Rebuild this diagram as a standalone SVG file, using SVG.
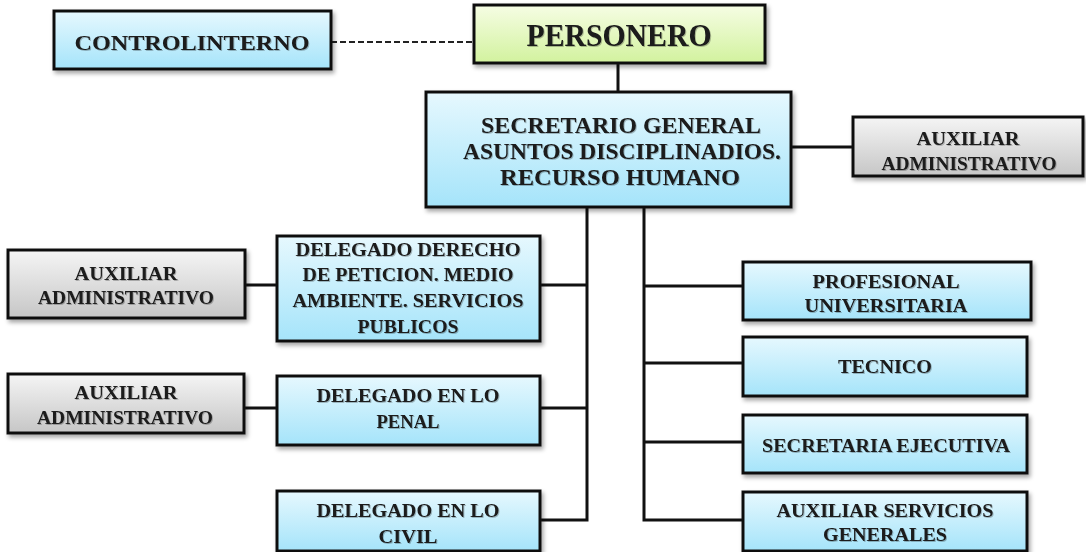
<svg xmlns="http://www.w3.org/2000/svg" width="1086" height="552" viewBox="0 0 1086 552">
<defs>
<linearGradient id="gBlue" x1="0" y1="0" x2="0" y2="1"><stop offset="0" stop-color="#e6f8fe"/><stop offset="1" stop-color="#a5e4fa"/></linearGradient>
<linearGradient id="gGray" x1="0" y1="0" x2="0" y2="1"><stop offset="0" stop-color="#f5f5f5"/><stop offset="1" stop-color="#c6c6c6"/></linearGradient>
<linearGradient id="gGreen" x1="0" y1="0" x2="0" y2="1"><stop offset="0" stop-color="#f6fde4"/><stop offset="1" stop-color="#d2f29e"/></linearGradient>
<filter id="sh" x="-10%" y="-10%" width="130%" height="140%"><feDropShadow dx="2" dy="3" stdDeviation="2" flood-color="#000" flood-opacity="0.35"/></filter>
<filter id="tsh" x="-5%" y="-20%" width="110%" height="150%"><feDropShadow dx="1" dy="1" stdDeviation="0.6" flood-color="#000" flood-opacity="0.25"/></filter>
</defs>
<style>
.box{stroke:#111;stroke-width:3;filter:url(#sh)}
.blue{fill:url(#gBlue)}
.gray{fill:url(#gGray)}
.green{fill:url(#gGreen)}
text{font-family:"Liberation Serif","Times New Roman",serif;font-weight:bold;fill:#1a1a1a;text-anchor:middle;filter:url(#tsh)}
.s{font-size:19.5px}
.m{font-size:22px}
.l{font-size:23px}
.xl{font-size:32px}
.c{fill:none;stroke:#111;stroke-width:3}
.d{fill:none;stroke:#222;stroke-width:2;stroke-dasharray:6 3}
</style>
<g id="connectors">
<path class="d" d="M331 42 H474"/>
<path class="c" d="M618 63 V92"/>
<path class="c" d="M791 147 H853"/>
<path class="c" d="M587 207 V520 H540 M540 285 H587 M540 408 H587"/>
<path class="c" d="M245 285 H277 M244 408 H277"/>
<path class="c" d="M644 207 V520 H743 M644 286 H743 M644 363 H743 M644 442 H743"/>
</g>
<g id="control-interno"><rect class="box blue" x="54" y="11" width="277" height="58"/><text class="m" x="192" y="50" textLength="235" lengthAdjust="spacingAndGlyphs">CONTROLINTERNO</text></g>
<g id="personero"><rect class="box green" x="474" y="5" width="291" height="58"/><text class="xl" x="619" y="46" textLength="185" lengthAdjust="spacingAndGlyphs">PERSONERO</text></g>
<g id="secretario"><rect class="box blue" x="426" y="92" width="365" height="115"/>
<text class="l" x="621" y="133" textLength="280" lengthAdjust="spacingAndGlyphs">SECRETARIO GENERAL</text>
<text class="l" x="622" y="159" textLength="318" lengthAdjust="spacingAndGlyphs">ASUNTOS DISCIPLINADIOS.</text>
<text class="l" x="620" y="185" textLength="240" lengthAdjust="spacingAndGlyphs">RECURSO HUMANO</text></g>
<g id="auxiliar-admin-right"><rect class="box gray" x="853" y="117" width="230" height="59"/>
<text class="s" x="968" y="145" textLength="103" lengthAdjust="spacingAndGlyphs">AUXILIAR</text>
<text class="s" x="969" y="170" textLength="175" lengthAdjust="spacingAndGlyphs">ADMINISTRATIVO</text></g>
<g id="auxiliar-admin-1"><rect class="box gray" x="8" y="250" width="237" height="68"/>
<text class="s" x="126" y="280" textLength="103" lengthAdjust="spacingAndGlyphs">AUXILIAR</text>
<text class="s" x="126" y="304" textLength="176" lengthAdjust="spacingAndGlyphs">ADMINISTRATIVO</text></g>
<g id="delegado-derecho"><rect class="box blue" x="277" y="236" width="263" height="105"/>
<text class="s" x="408" y="256" textLength="225" lengthAdjust="spacingAndGlyphs">DELEGADO DERECHO</text>
<text class="s" x="408" y="281" textLength="211" lengthAdjust="spacingAndGlyphs">DE PETICION. MEDIO</text>
<text class="s" x="408" y="307" textLength="231" lengthAdjust="spacingAndGlyphs">AMBIENTE. SERVICIOS</text>
<text class="s" x="408" y="333" textLength="101" lengthAdjust="spacingAndGlyphs">PUBLICOS</text></g>
<g id="auxiliar-admin-2"><rect class="box gray" x="8" y="374" width="236" height="59"/>
<text class="s" x="126" y="399" textLength="103" lengthAdjust="spacingAndGlyphs">AUXILIAR</text>
<text class="s" x="125" y="424" textLength="176" lengthAdjust="spacingAndGlyphs">ADMINISTRATIVO</text></g>
<g id="delegado-penal"><rect class="box blue" x="277" y="376" width="263" height="69"/>
<text class="s" x="408" y="402" textLength="183" lengthAdjust="spacingAndGlyphs">DELEGADO EN LO</text>
<text class="s" x="408" y="428" textLength="63" lengthAdjust="spacingAndGlyphs">PENAL</text></g>
<g id="delegado-civil"><rect class="box blue" x="277" y="491" width="263" height="60"/>
<text class="s" x="408" y="517" textLength="183" lengthAdjust="spacingAndGlyphs">DELEGADO EN LO</text>
<text class="s" x="408" y="543" textLength="59" lengthAdjust="spacingAndGlyphs">CIVIL</text></g>
<g id="profesional"><rect class="box blue" x="743" y="262" width="288" height="58"/>
<text class="s" x="886" y="288" textLength="147" lengthAdjust="spacingAndGlyphs">PROFESIONAL</text>
<text class="s" x="886" y="312" textLength="163" lengthAdjust="spacingAndGlyphs">UNIVERSITARIA</text></g>
<g id="tecnico"><rect class="box blue" x="743" y="337" width="284" height="59"/>
<text class="s" x="885" y="373" textLength="94" lengthAdjust="spacingAndGlyphs">TECNICO</text></g>
<g id="secretaria-ejecutiva"><rect class="box blue" x="743" y="415" width="284" height="58"/>
<text class="s" x="886" y="452" textLength="248" lengthAdjust="spacingAndGlyphs">SECRETARIA EJECUTIVA</text></g>
<g id="auxiliar-servicios"><rect class="box blue" x="743" y="492" width="284" height="59"/>
<text class="s" x="885" y="517" textLength="217" lengthAdjust="spacingAndGlyphs">AUXILIAR SERVICIOS</text>
<text class="s" x="885" y="541" textLength="124" lengthAdjust="spacingAndGlyphs">GENERALES</text></g>
</svg>
